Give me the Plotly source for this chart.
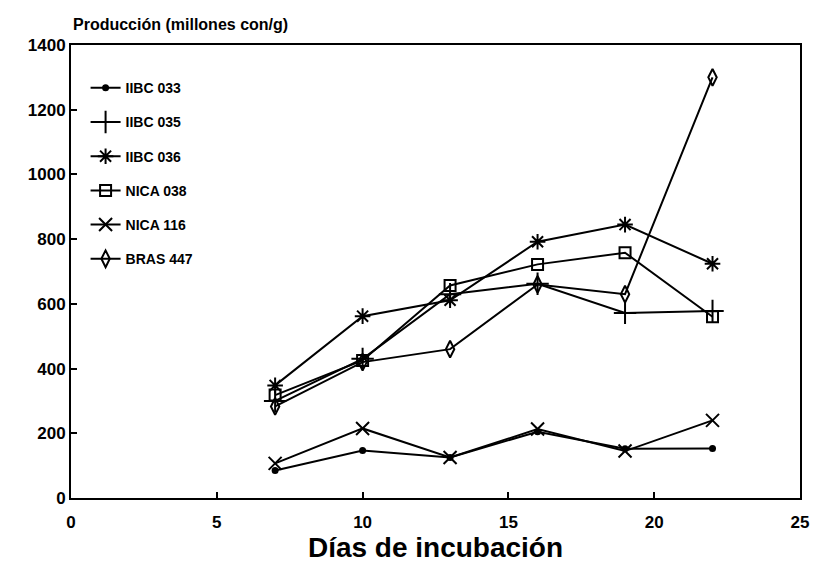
import plotly.graph_objects as go

dias = [7, 10, 13, 16, 19, 22]

iibc_033 = [85, 147, 125, 205, 152, 153]
iibc_035 = [300, 430, 630, 662, 572, 578]
iibc_036 = [348, 562, 611, 792, 845, 724]
nica_038 = [318, 425, 657, 722, 758, 560]
nica_116 = [107, 215, 125, 213, 145, 240]
bras_447 = [283, 420, 460, 660, 630, 1300]

series = [
    ("IIBC 033", iibc_033, "circle", 5),
    ("IIBC 035", iibc_035, "cross-thin-open", 16),
    ("IIBC 036", iibc_036, "asterisk-open", 13),
    ("NICA 038", nica_038, "square-open", 11),
    ("NICA 116", nica_116, "x-thin-open", 13),
    ("BRAS 447", bras_447, "diamond-tall-open", 12),
]

FONT = "Liberation Sans"

fig = go.Figure()
for i, (name, vals, sym, sz) in enumerate(series):
    fig.add_trace(go.Scatter(
        x=dias, y=vals, name=name, mode="lines+markers",
        legendgroup=f"g{i}",
        line=dict(color="black", width=2),
        marker=dict(symbol=sym, size=sz, color="black",
                    line=dict(color="black", width=2)),
    ))

fig.update_layout(
    width=821, height=566,
    margin=dict(l=71, r=14, t=45, b=63),
    paper_bgcolor="white", plot_bgcolor="white",
    font=dict(family=FONT, color="black"),
    showlegend=True,
    legend=dict(x=0.02, y=0.94, xanchor="left", yanchor="top",
                bgcolor="rgba(0,0,0,0)", tracegroupgap=13,
                font=dict(size=14, family=FONT, weight="bold")),
    xaxis=dict(range=[0, 25], tickvals=[0, 5, 10, 15, 20, 25],
               showgrid=False, zeroline=False,
               showline=True, linecolor="black", linewidth=2, mirror=True,
               ticks="inside", ticklen=6, tickwidth=2, tickcolor="black",
               ticklabelstandoff=8,
               tickfont=dict(size=17, weight="bold"),
               title=dict(text="Días de incubación", standoff=2,
                          font=dict(size=28, family=FONT, weight="bold"))),
    yaxis=dict(range=[0, 1400], tickvals=[0, 200, 400, 600, 800, 1000, 1200, 1400],
               showgrid=False, zeroline=False,
               showline=True, linecolor="black", linewidth=2, mirror=True,
               ticks="inside", ticklen=6, tickwidth=2, tickcolor="black",
               tickfont=dict(size=17, weight="bold")),
)

fig.add_annotation(text="Producción (millones con/g)", xref="paper", yref="paper",
                   x=0.0, y=1.0, xanchor="left", yanchor="bottom", yshift=10,
                   showarrow=False, font=dict(size=16, weight="bold"))

# drop the default body margin so the figure fills the window exactly
fig.write_html("out.html", config={"displayModeBar": False},
               post_script="document.body.style.margin='0';")
